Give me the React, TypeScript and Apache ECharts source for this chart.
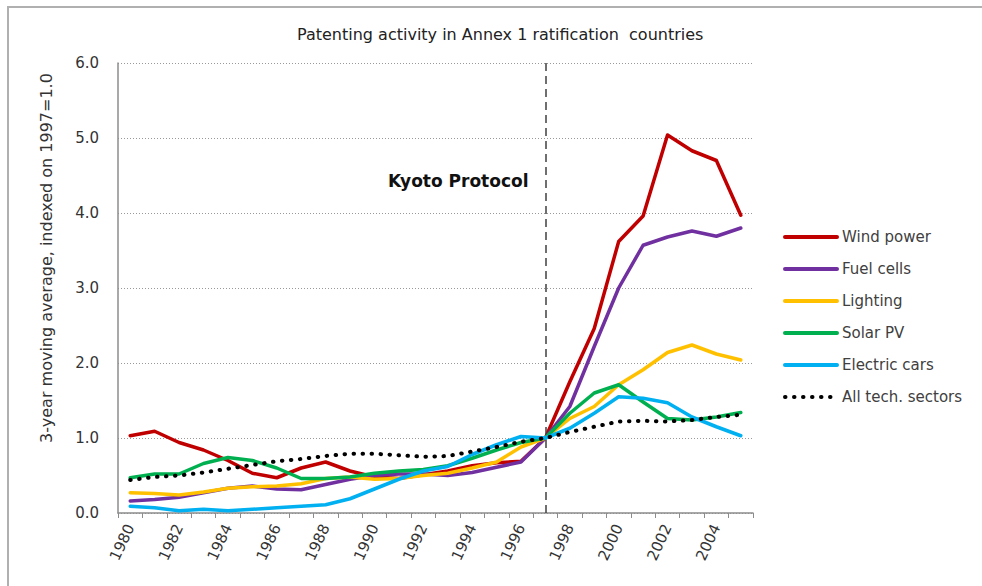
import React, { useEffect, useRef } from "react";
import * as echarts from "echarts";

const years = [
  "1980", "1981", "1982", "1983", "1984", "1985", "1986", "1987", "1988", "1989",
  "1990", "1991", "1992", "1993", "1994", "1995", "1996", "1997", "1998", "1999",
  "2000", "2001", "2002", "2003", "2004", "2005",
];

const windPower = [1.03, 1.09, 0.94, 0.84, 0.70, 0.53, 0.47, 0.60, 0.68, 0.56, 0.48, 0.46, 0.51, 0.56, 0.63, 0.67, 0.69, 1.00, 1.75, 2.46, 3.62, 3.96, 5.04, 4.83, 4.70, 3.97];
const fuelCells = [0.16, 0.18, 0.21, 0.27, 0.33, 0.36, 0.32, 0.31, 0.38, 0.45, 0.50, 0.52, 0.52, 0.50, 0.54, 0.61, 0.68, 1.00, 1.42, 2.22, 3.00, 3.57, 3.68, 3.76, 3.69, 3.80];
const lighting = [0.27, 0.26, 0.24, 0.28, 0.33, 0.35, 0.36, 0.39, 0.46, 0.48, 0.45, 0.46, 0.50, 0.53, 0.60, 0.68, 0.88, 1.00, 1.26, 1.42, 1.71, 1.91, 2.14, 2.24, 2.12, 2.04];
const solarPV = [0.47, 0.52, 0.52, 0.66, 0.74, 0.70, 0.60, 0.46, 0.46, 0.48, 0.53, 0.56, 0.58, 0.63, 0.73, 0.84, 0.94, 1.00, 1.33, 1.60, 1.71, 1.48, 1.26, 1.24, 1.28, 1.34];
const electricCars = [0.09, 0.07, 0.03, 0.05, 0.03, 0.05, 0.07, 0.09, 0.11, 0.19, 0.32, 0.45, 0.56, 0.62, 0.78, 0.91, 1.02, 1.00, 1.13, 1.33, 1.55, 1.53, 1.47, 1.28, 1.15, 1.03];
const allSectors = [0.44, 0.48, 0.50, 0.54, 0.59, 0.64, 0.69, 0.72, 0.76, 0.79, 0.79, 0.77, 0.75, 0.76, 0.82, 0.88, 0.95, 1.00, 1.08, 1.15, 1.22, 1.23, 1.22, 1.24, 1.28, 1.31];

const seriesNames = ["Wind power", "Fuel cells", "Lighting", "Solar PV", "Electric cars", "All tech. sectors"];
const seriesColors = ["#C00000", "#7030A0", "#FFC000", "#00B050", "#00B0F0", "#000000"];
const seriesData = [windPower, fuelCells, lighting, solarPV, electricCars, allSectors];

const titleText = "Patenting activity in Annex 1 ratification  countries";
const yAxisName = "3-year moving average, indexed on 1997=1.0";
const eventYear = "1997";
const eventLabel = "Kyoto Protocol";

export default function App() {
  const ref = useRef<HTMLDivElement>(null);

  useEffect(() => {
    if (!ref.current) return;
    const chart = echarts.init(ref.current, undefined, { renderer: "svg" });
    const series: any[] = seriesNames.map((name, i) => {
      const isDotted = i === 5;
      const s: any = {
        name,
        type: "line",
        data: seriesData[i],
        symbol: "none",
        z: 3 + i,
        lineStyle: isDotted
          ? { color: seriesColors[i], width: 4, type: [0.5, 8.5], cap: "round" }
          : { color: seriesColors[i], width: 3.5, cap: "round", join: "round" },
        itemStyle: { color: seriesColors[i] },
      };
      if (i === 0) {
        s.markLine = {
          silent: true,
          symbol: "none",
          label: { show: false },
          lineStyle: { color: "#404040", width: 1.5, type: [8, 5] },
          data: [{ xAxis: eventYear }],
        };
      }
      return s;
    });

    chart.setOption({
      animation: false,
      backgroundColor: "#ffffff",
      title: {
        text: titleText,
        left: 292,
        top: 21,
        textStyle: { fontFamily: "DejaVu Sans", fontSize: 16, fontWeight: "normal", color: "#222" },
      },
      legend: {
        orient: "vertical",
        left: 783,
        top: 229,
        padding: 0,
        itemWidth: 52,
        itemHeight: 20,
        itemGap: 16,
        data: seriesNames,
        itemStyle: { opacity: 0, borderWidth: 0 },
        lineStyle: { width: 4 },
        textStyle: { fontFamily: "DejaVu Sans", fontSize: 15, color: "#404040" },
      },
      grid: { left: 118, top: 63, width: 635, height: 450, containLabel: false },
      xAxis: {
        type: "category",
        data: years,
        boundaryGap: true,
        axisLine: { lineStyle: { color: "#8c8c8c", width: 1.5 } },
        axisTick: { show: true, interval: 0, length: 5, lineStyle: { color: "#8c8c8c" } },
        axisLabel: {
          interval: 1,
          rotate: 65,
          margin: 12,
          fontFamily: "DejaVu Sans",
          fontSize: 15,
          color: "#333",
        },
        splitLine: { show: false },
      },
      yAxis: {
        type: "value",
        min: 0,
        max: 6,
        interval: 1,
        name: yAxisName,
        nameLocation: "middle",
        nameRotate: 90,
        nameGap: 64,
        nameTextStyle: { fontFamily: "DejaVu Sans", fontSize: 16, color: "#333", padding: [0, 0, 0, 60] },
        axisLine: { show: true, lineStyle: { color: "#8c8c8c", width: 1.5 } },
        axisTick: { show: false },
        axisLabel: {
          margin: 19,
          fontFamily: "DejaVu Sans",
          fontSize: 15,
          color: "#333",
          formatter: (v: number) => v.toFixed(1),
        },
        splitLine: { show: true, lineStyle: { color: "#999", width: 1, type: [1, 2] } },
      },
      graphic: [
        {
          type: "rect",
          silent: true,
          shape: { x: 8, y: 7, width: 1000, height: 620 },
          style: { fill: "none", stroke: "#b0b0b0", lineWidth: 2 },
          z: -1,
        },
        {
          type: "text",
          x: 388,
          y: 181,
          style: {
            text: eventLabel,
            fontFamily: "DejaVu Sans",
            fontWeight: "bold",
            fontSize: 17,
            fill: "#111",
            verticalAlign: "middle",
          },
        },
      ],
      series,
    });
    return () => chart.dispose();
  }, []);

  return (
    <div
      ref={ref}
      style={{ position: "fixed", left: 0, top: 0, width: 982, height: 586, background: "#fff" }}
    />
  );
}
